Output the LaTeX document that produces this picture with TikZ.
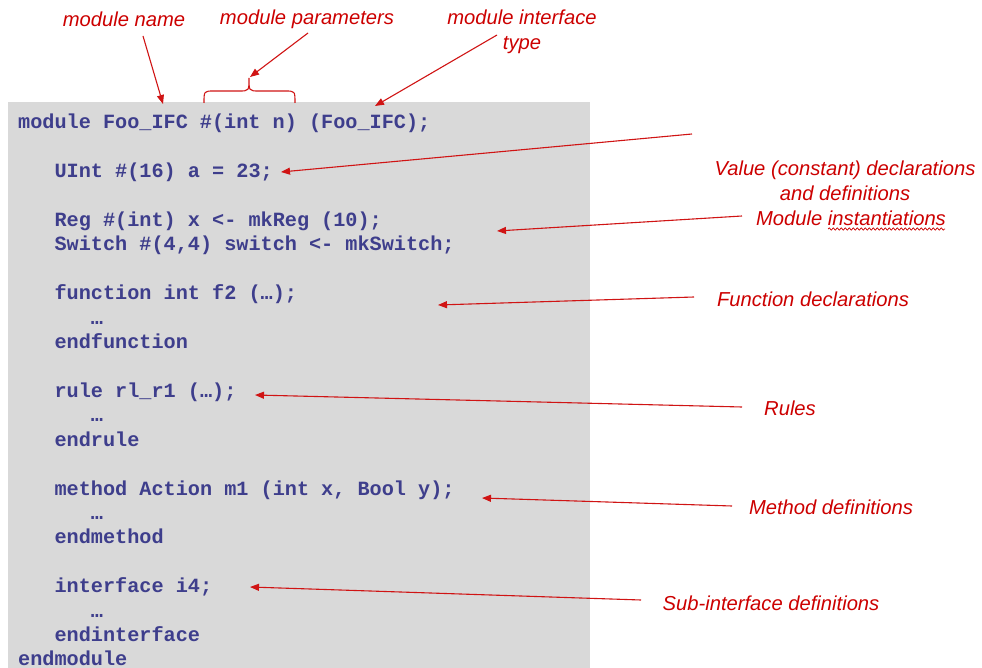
\documentclass[tikz,border=0pt]{standalone}
\usepackage{fontspec}
\setsansfont{Liberation Sans}
\setmonofont{Liberation Mono}
\usetikzlibrary{arrows.meta,decorations.pathmorphing}
\definecolor{codeblue}{RGB}{62,62,140}
\definecolor{boxgray}{RGB}{217,217,217}
\definecolor{annred}{RGB}{204,0,0}
\definecolor{arrred}{RGB}{208,20,20}
\tikzset{
  code/.style={anchor=base west, inner sep=0pt, text=codeblue,
    font=\fontsize{20.2}{24.36}\selectfont\ttfamily\bfseries},
  ann/.style={inner sep=0pt, text=annred, align=center,
    font=\fontsize{20.2}{24.5}\selectfont\sffamily\itshape},
  pointer/.style={draw=arrred, line width=1.1pt, -{Triangle[length=9pt,width=7pt]}},
}
\begin{document}
\begin{tikzpicture}[x=1pt,y=-1pt]
\useasboundingbox (0,0) rectangle (982,668);
\fill[boxgray] (8,102) rectangle (590,668);

% code lines
\def\xa{18}
\def\xb{54.4}
\def\xc{90.7}
\node[code] (l1)  at (\xa,129)   {module Foo\_IFC \#(int n) (Foo\_IFC);};
\node[code] (l3)  at (\xb,177.8) {UInt \#(16) a = 23;};
\node[code] (l5)  at (\xb,226.6) {Reg \#(int) x <- mkReg (10);};
\node[code] (l6)  at (\xb,251.0) {Switch \#(4,4) switch <- mkSwitch;};
\node[code] (l8)  at (\xb,299.8) {function int f2 (…);};
\node[code] (l9)  at (\xc,324.2) {…};
\node[code] (l10) at (\xb,348.6) {endfunction};
\node[code] (l12) at (\xb,397.4) {rule rl\_r1 (…);};
\node[code] (l13) at (\xc,421.8) {…};
\node[code] (l14) at (\xb,446.2) {endrule};
\node[code] (l16) at (\xb,495.0) {method Action m1 (int x, Bool y);};
\node[code] (l17) at (\xc,519.4) {…};
\node[code] (l18) at (\xb,543.8) {endmethod};
\node[code] (l20) at (\xb,592.6) {interface i4;};
\node[code] (l21) at (\xc,617.0) {…};
\node[code] (l22) at (\xb,641.4) {endinterface};
\node[code] (l23) at (\xa,665.8) {endmodule};

% annotations
\node[ann] (tname)  at (124,19)  {module name};
\node[ann] (tparam) at (307,19)  {module parameters};
\node[ann] (tifc)   at (522,32)  {module interface\\type};
\node[ann] (tval)   at (845,181) {Value (constant) declarations\\and definitions};
\node[ann] (tinst)  at (851,218) {Module instantiations};
\node[ann] (tfun)   at (813,299) {Function declarations};
\node[ann] (trule)  at (790,408) {Rules};
\node[ann] (tmeth)  at (831,507) {Method definitions};
\node[ann] (tsub)   at (771,603) {Sub-interface definitions};

% wavy spell-check underline
\draw[annred, line width=0.7pt, decorate,
  decoration={snake, amplitude=1.1pt, segment length=4pt}] (828,229) -- (945,229);

% brace over parameters
\coordinate (bl) at (204,103);
\coordinate (bp) at (249,78);
\coordinate (br) at (295,103);
\draw[arrred, line width=1.1pt] (bl) .. controls (204,91) .. (214,91) -- (239,91)
  .. controls (249,91) .. (bp) .. controls (249,91) .. (259,91) -- (285,91)
  .. controls (295,91) .. (br);

% arrow endpoints
\coordinate (s1) at (143,36);  \coordinate (e1) at (163,104);
\coordinate (s2) at (308,33);  \coordinate (e2) at (250,77);
\coordinate (s3) at (497,35);  \coordinate (e3) at (375,106);
\coordinate (s4) at (692,134); \coordinate (e4) at (281,172);
\coordinate (s5) at (742,216); \coordinate (e5) at (497,231);
\coordinate (s6) at (694,297); \coordinate (e6) at (438,305);
\coordinate (s7) at (742,407); \coordinate (e7) at (255,395);
\coordinate (s8) at (732,506); \coordinate (e8) at (482,498);
\coordinate (s9) at (641,600); \coordinate (e9) at (250,587);
\foreach \i in {1,...,9} { \draw[pointer] (s\i) -- (e\i); }
\end{tikzpicture}
\end{document}
